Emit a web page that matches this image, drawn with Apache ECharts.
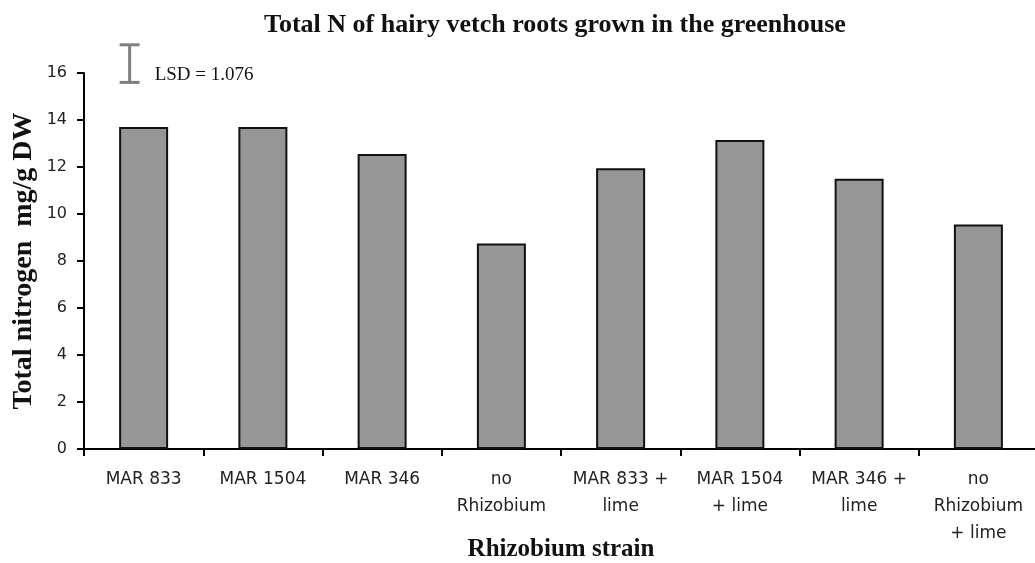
<!DOCTYPE html>
<html>
<head>
<meta charset="utf-8">
<script src="https://cdn.jsdelivr.net/npm/echarts@6/dist/echarts.min.js"></script>
<style>html,body{margin:0;padding:0;background:#fff}#c{width:1035px;height:563px}</style>
</head>
<body>
<div id="c"></div>
<script>
const categories = ['MAR 833', 'MAR 1504', 'MAR 346', 'no\nRhizobium', 'MAR 833 +\nlime', 'MAR 1504\n+ lime', 'MAR 346 +\nlime', 'no\nRhizobium\n+ lime'];
const totalN = [13.7, 13.7, 12.55, 8.75, 11.95, 13.15, 11.5, 9.55];
const yTicks = [0, 2, 4, 6, 8, 10, 12, 14, 16];
const lsdRange = [15.6, 17.2];
const lsdLabel = 'LSD = 1.076';
const titleText = 'Total N of hairy vetch roots grown in the greenhouse';
const xName = 'Rhizobium strain';
const yName = 'Total nitrogen  mg/g DW';

const chart = echarts.init(document.getElementById('c'), null, {renderer: 'canvas'});
chart.setOption({
  animation: false,
  backgroundColor: '#fff',
  title: {
    text: titleText,
    left: 259, top: 7,
    textStyle: {fontFamily: 'Liberation Serif', fontWeight: 'bold', fontSize: 26, color: '#111'}
  },
  grid: {left: 84, top: 73, width: 954, height: 376, outerBoundsMode: 'none', containLabel: false},
  xAxis: {
    type: 'category',
    data: categories,
    boundaryGap: true,
    name: xName,
    nameLocation: 'middle',
    nameGap: 88,
    nameMoveOverlap: false,
    nameTextStyle: {fontFamily: 'Liberation Serif', fontWeight: 'bold', fontSize: 25, color: '#111'},
    axisLine: {lineStyle: {color: '#000', width: 2}},
    axisTick: {show: true, length: 7, lineStyle: {color: '#000', width: 2}},
    axisLabel: {interval: 0, margin: 17, fontFamily: 'DejaVu Sans', fontSize: 17, lineHeight: 27, color: '#222'},
    splitLine: {show: false}
  },
  yAxis: {
    type: 'value',
    min: yTicks[0], max: yTicks[yTicks.length - 1], interval: 2,
    name: yName,
    nameLocation: 'middle',
    nameRotate: 90,
    nameGap: 46,
    nameMoveOverlap: false,
    nameTextStyle: {fontFamily: 'Liberation Serif', fontWeight: 'bold', fontSize: 28, color: '#111'},
    axisLine: {show: true, lineStyle: {color: '#000', width: 2}},
    axisTick: {show: true, length: 7, lineStyle: {color: '#000', width: 2}},
    axisLabel: {margin: 17, fontFamily: 'DejaVu Sans', fontSize: 16, color: '#222'},
    splitLine: {show: false}
  },
  series: [
    {
      type: 'bar',
      data: totalN,
      barWidth: 49,
      itemStyle: {color: '#969696', borderColor: '#111', borderWidth: 2}
    },
    {
      type: 'custom',
      clip: false,
      silent: true,
      data: [[0, lsdRange[0], lsdRange[1]]],
      renderItem: function (params, api) {
        const lo = api.coord([api.value(0), api.value(1)]);
        const hi = api.coord([api.value(0), api.value(2)]);
        const x = lo[0] - 14;
        const st = {stroke: '#808080', lineWidth: 3};
        const mid = api.coord([api.value(0), 15.9]);
        return {
          type: 'group',
          children: [
            {type: 'line', shape: {x1: x, y1: lo[1], x2: x, y2: hi[1]}, style: st},
            {type: 'line', shape: {x1: x - 10, y1: lo[1], x2: x + 10, y2: lo[1]}, style: st},
            {type: 'line', shape: {x1: x - 10, y1: hi[1], x2: x + 10, y2: hi[1]}, style: st},
            {type: 'text', style: {text: lsdLabel, x: x + 25, y: mid[1], verticalAlign: 'middle', align: 'left',
              font: '19px "Liberation Serif"', fill: '#111'}}
          ]
        };
      }
    }
  ]
});
</script>
</body>
</html>
